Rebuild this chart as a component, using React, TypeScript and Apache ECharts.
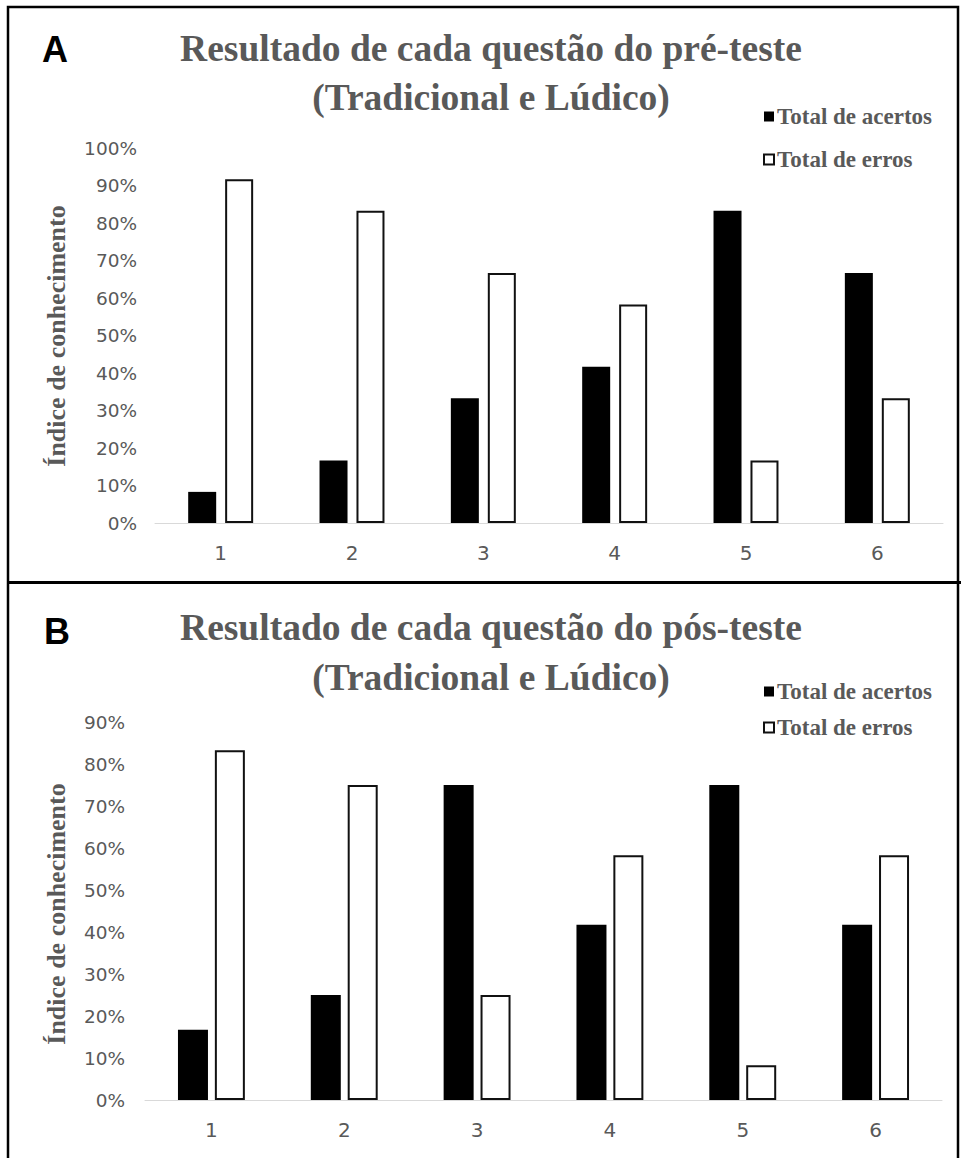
import React, { useEffect, useRef } from "react";
import * as echarts from "echarts";

const categories = ["1", "2", "3", "4", "5", "6"];
const seriesNames = ["Total de acertos", "Total de erros"];
// Panel A: pré-teste (%)
const preAcertos = [8.3, 16.7, 33.3, 41.7, 83.3, 66.7];
const preErros = [91.7, 83.3, 66.7, 58.3, 16.7, 33.3];
// Panel B: pós-teste (%)
const posAcertos = [16.7, 25, 75, 41.7, 75, 41.7];
const posErros = [83.3, 75, 25, 58.3, 8.3, 58.3];
const titleA = "Resultado de cada questão do pré-teste\n(Tradicional e Lúdico)";
const titleB = "Resultado de cada questão do pós-teste\n(Tradicional e Lúdico)";
const yTitle = "Índice de conhecimento";

const GRAY = "#595959";
const SERIF = "'Liberation Serif', 'Times New Roman', serif";
const SANS = "'DejaVu Sans', sans-serif";

export default function App() {
  const ref = useRef<HTMLDivElement>(null);
  useEffect(() => {
    if (!ref.current) return;
    const chart = echarts.init(ref.current, null, { renderer: "svg" });
    const xAxisBase = (gridIndex: number) => ({
      type: "category",
      gridIndex,
      data: categories,
      axisLine: { show: true, lineStyle: { color: "#d9d9d9", width: 1 } },
      axisTick: { show: false },
      axisLabel: { margin: 20, fontSize: 20, color: GRAY, fontFamily: SANS },
    });
    const yAxisBase = (gridIndex: number, max: number, margin: number) => ({
      type: "value",
      gridIndex,
      min: 0,
      max,
      interval: 10,
      splitLine: { show: false },
      axisLine: { show: false },
      axisTick: { show: false },
      axisLabel: { formatter: "{value}%", fontSize: 18.5, color: GRAY, fontFamily: SANS, margin },
    });
    const blackStyle = { color: "#000000" };
    const whiteStyle = { color: "#ffffff", borderColor: "#111111", borderWidth: 2 };
    const legendBase = (top: number) => ({
      orient: "vertical",
      left: 758,
      top,
      icon: "rect",
      itemWidth: 10,
      itemHeight: 10,
      itemGap: 20,
      data: seriesNames,
      selectedMode: false,
      textStyle: { fontFamily: SERIF, fontWeight: "bold", fontSize: 23, color: GRAY, lineHeight: 23, padding: [0, 0, 0, -2] },
    });
    chart.setOption({
      animation: false,
      backgroundColor: "#ffffff",
      grid: [
        { left: 155, top: 148, width: 788, height: 375 },
        { left: 145, top: 722, width: 797, height: 378 },
      ],
      xAxis: [xAxisBase(0), xAxisBase(1)],
      yAxis: [yAxisBase(0, 100, 18), yAxisBase(1, 90, 20)],
      legend: [legendBase(100), { ...legendBase(675), itemGap: 13 }],
      series: [
        { name: seriesNames[0], type: "bar", xAxisIndex: 0, yAxisIndex: 0, data: preAcertos, barWidth: 28, barGap: "32%", itemStyle: blackStyle },
        { name: seriesNames[1], type: "bar", xAxisIndex: 0, yAxisIndex: 0, data: preErros, barWidth: 28, barGap: "32%", itemStyle: whiteStyle },
        { name: seriesNames[0], type: "bar", xAxisIndex: 1, yAxisIndex: 1, data: posAcertos, barWidth: 30, barGap: "23%", itemStyle: blackStyle },
        { name: seriesNames[1], type: "bar", xAxisIndex: 1, yAxisIndex: 1, data: posErros, barWidth: 30, barGap: "23%", itemStyle: whiteStyle },
      ],
      graphic: [
        { type: "rect", shape: { x: 8, y: 7, width: 950, height: 1160 }, style: { fill: "none", stroke: "#000", lineWidth: 2.5 } },
        { type: "line", shape: { x1: 8, y1: 582.5, x2: 961, y2: 582.5 }, style: { stroke: "#000", lineWidth: 3 } },
        { type: "text", x: 55, y: 49, style: { text: "A", font: "bold 36px 'Liberation Sans', Arial, sans-serif", fill: "#000", textAlign: "center", textVerticalAlign: "middle" } },
        { type: "text", x: 57, y: 631, style: { text: "B", font: "bold 36px 'Liberation Sans', Arial, sans-serif", fill: "#000", textAlign: "center", textVerticalAlign: "middle" } },
        { type: "text", x: 491, y: 72.5, style: { text: titleA, font: `bold 37.5px ${SERIF}`, fill: GRAY, textAlign: "center", textVerticalAlign: "middle", lineHeight: 49 } },
        { type: "text", x: 491, y: 652, style: { text: titleB, font: `bold 37.5px ${SERIF}`, fill: GRAY, textAlign: "center", textVerticalAlign: "middle", lineHeight: 50 } },
        { type: "text", x: 56, y: 336, rotation: Math.PI / 2, style: { text: yTitle, font: `bold 26px ${SERIF}`, fill: GRAY, textAlign: "center", textVerticalAlign: "middle" } },
        { type: "text", x: 56, y: 914, rotation: Math.PI / 2, style: { text: yTitle, font: `bold 26px ${SERIF}`, fill: GRAY, textAlign: "center", textVerticalAlign: "middle" } },
      ],
    });
    return () => chart.dispose();
  }, []);
  return <div ref={ref} style={{ position: "absolute", left: 0, top: 0, width: 961, height: 1158 }} />;
}
